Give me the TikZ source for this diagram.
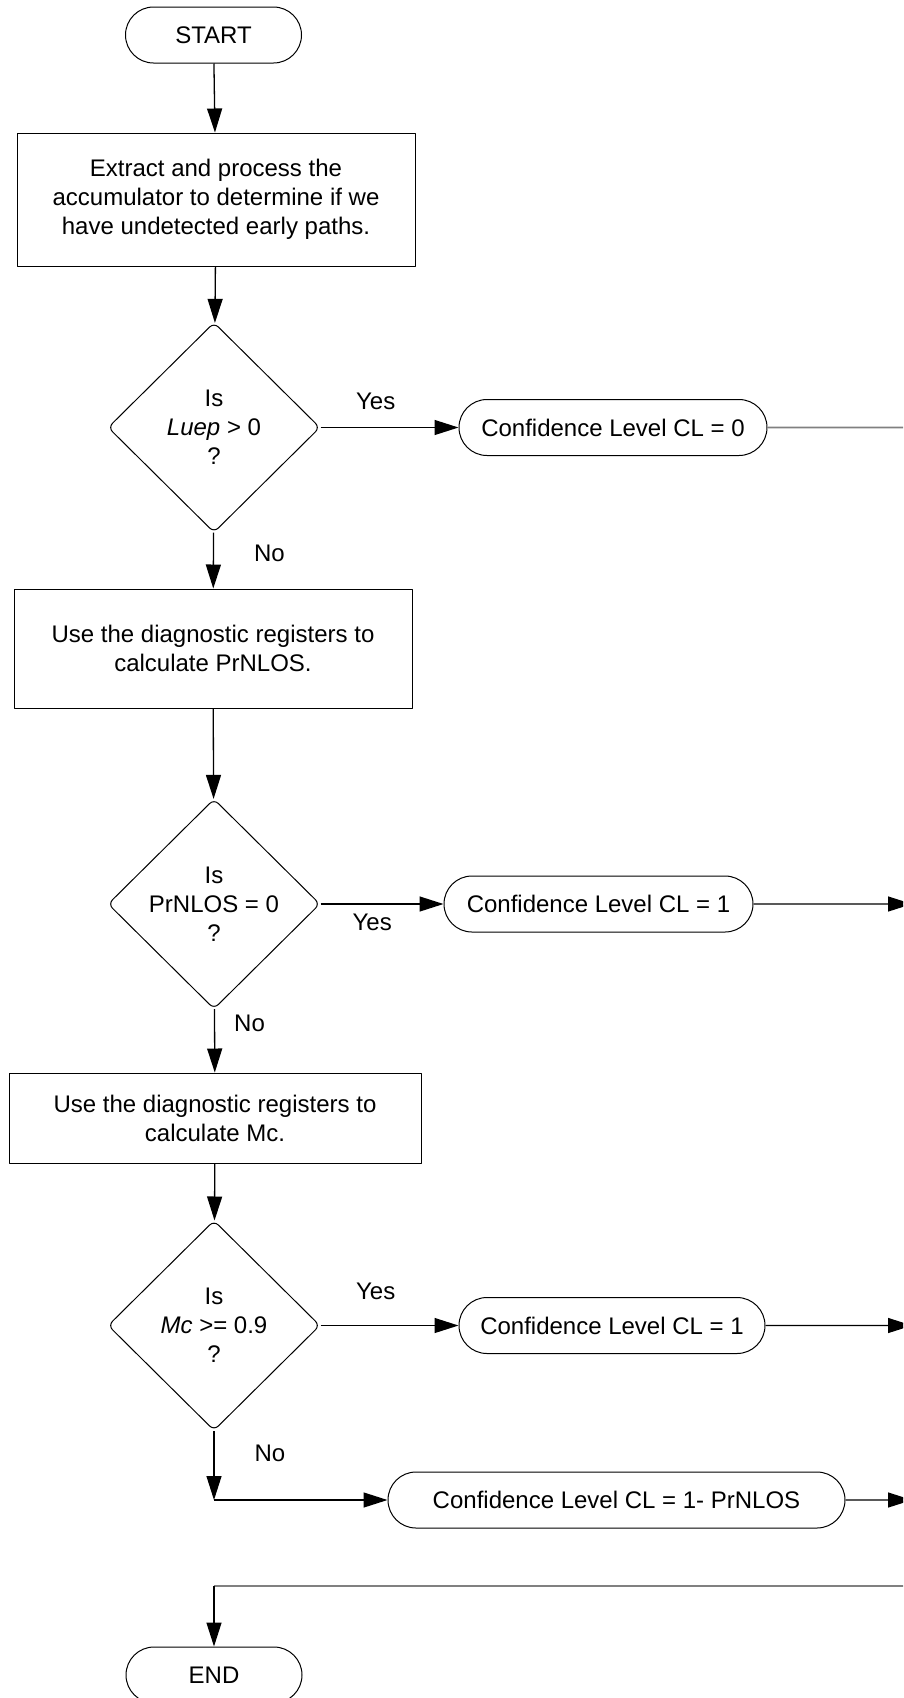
\documentclass[tikz,border=0pt]{standalone}
\usepackage{fontspec}
\setmainfont{Liberation Sans}
\usetikzlibrary{arrows.meta,shapes.geometric,shapes.misc}
\definecolor{wiregray}{RGB}{128,128,128}
\begin{document}
\begin{tikzpicture}[x=1pt,y=-1pt,>={Triangle[length=24pt,width=15pt]},line join=round,
    font=\fontsize{24}{29}\selectfont,
    terminal/.style={draw,line width=1pt,rounded rectangle,minimum width=176pt,minimum height=56pt,inner sep=0pt},
    process/.style={draw,line width=1pt,rectangle,align=center,inner sep=0pt},
    decision/.style={draw,line width=1pt,diamond,aspect=1,minimum width=212pt,minimum height=210pt,inner sep=0pt,align=center,rounded corners=6pt},
    clbox/.style={draw,line width=1pt,rounded rectangle,minimum height=56pt,inner sep=0pt},
    flow/.style={->,line width=1.3pt},
    wire/.style={draw=wiregray,line width=1.6pt},
    lbl/.style={inner sep=0pt}]
    \useasboundingbox (0,0) rectangle (903,1698);
    \clip (0,0) rectangle (903,1698);
    \node[terminal] (start) at (213.5,35) {START};
    \node[process,minimum width=398pt,minimum height=133pt] (extract) at (216,199.5) {Extract and process the\\accumulator to determine if we\\have undetected early paths.};
    \node[decision] (isluep) at (214,427.5) {Is\\\textit{Luep} > 0\\?};
    \node[process,minimum width=398pt,minimum height=119pt] (prnlos) at (213,648.5) {Use the diagnostic registers to\\calculate PrNLOS.};
    \node[decision] (iszero) at (214,904) {Is\\PrNLOS = 0\\?};
    \node[process,minimum width=412pt,minimum height=90pt] (mc) at (215,1118) {Use the diagnostic registers to\\calculate Mc.};
    \node[decision] (ismc) at (214,1325.5) {Is\\\textit{Mc} >= 0.9\\?};
    \node[clbox,minimum width=308pt] (clzero) at (613,427.5) {Confidence Level CL = 0};
    \node[clbox,minimum width=309pt] (clone) at (598.5,904) {Confidence Level CL = 1};
    \node[clbox,minimum width=306pt] (clmc) at (612,1325.5) {Confidence Level CL = 1};
    \node[clbox,minimum width=457pt] (clrest) at (616.5,1500) {Confidence Level CL = 1- PrNLOS};
    \node[terminal] (end) at (214,1675) {END};
    \coordinate (turn) at (214,1500);
    \coordinate (back) at (214,1586);
    \coordinate (exitback) at (915,1586);
    \coordinate (exitzero) at (915,427.5);
    \foreach \n/\y in {one/904,mc/1325.5,rest/1500}
    \coordinate (exit\n) at (912,\y);
    \draw[flow] (start) -- (extract);
    \draw[flow] (extract) -- (isluep);
    \draw[flow] (isluep) -- node[lbl,pos=.4,above=17pt]{Yes} (clzero);
    \draw[flow] (isluep) -- node[lbl,pos=.37,right=40pt]{No} (prnlos);
    \draw[flow] (prnlos) -- (iszero);
    \draw[flow] (iszero) -- node[lbl,pos=.42,below=9pt]{Yes} (clone);
    \draw[flow] (iszero) -- node[lbl,pos=.23,right=19pt]{No} (mc);
    \draw[flow] (mc) -- (ismc);
    \draw[flow] (ismc) -- node[lbl,pos=.4,above=25pt]{Yes} (clmc);
    \draw[flow] (ismc) -- node[lbl,pos=.32,right=40pt]{No} (turn);
    \draw[flow] (turn) -- (clrest);
    \draw[wire] (clzero) -- (exitzero);
    \foreach \n in {one,mc,rest}
    \draw[flow] (cl\n) -- (exit\n);
    \draw[wire] (exitback) -- (back);
    \draw[flow] (back) -- (end);
\end{tikzpicture}
\end{document}
